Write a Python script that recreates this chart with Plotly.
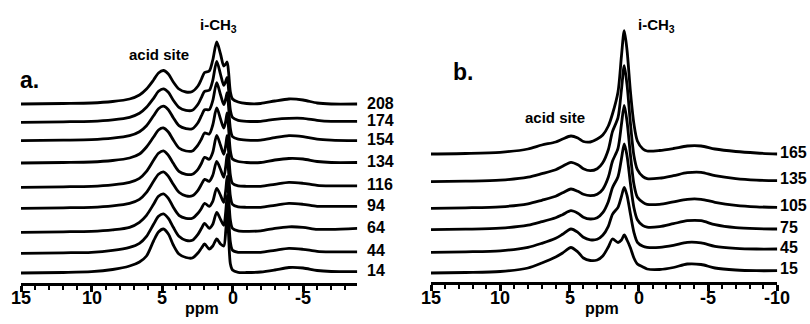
import plotly.graph_objects as go

FONT = "Liberation Sans, Arial, sans-serif"
W, H = 810, 324

# ---------------- Panel a data ----------------
ppm_a = [15, 12, 10, 8.5, 7.3, 6.6, 6.1, 5.6, 5.25, 4.9, 4.55, 4.2, 3.8, 3.3, 2.85, 2.45, 2.2, 1.98,
         1.65, 1.4, 1.12, 0.85, 0.62, 0.48, 0.38, 0.28, 0.15, 0.0, -0.4, -1.0, -2.0, -3.0, -4.0, -5.0,
         -6.0, -7.0, -8.85]
labels_a = ["208", "174", "154", "134", "116", "94", "64", "44", "14"]
baselines_a = [179, 160.7, 142.3, 120, 95.7, 74.7, 50.7, 29.7, 10]
spec_a_208 = [0, 0.5, 1, 2.5, 5, 9, 15, 24, 31, 33.5, 30, 22, 15, 12, 12.5, 18, 25, 31.5, 33, 44, 62, 50, 38, 40, 42, 32, 12, 5, 2, 0.5, 0.5, 3, 5, 4, 1, 0, 0]
spec_a_174 = [0, 0.5, 1, 2.5, 5, 9, 15, 24, 31, 33.5, 30, 22, 15, 12, 12, 18, 25, 31, 32, 42, 61, 48, 37, 41, 45, 33, 12, 5, 2, 1, 1, 3, 4, 4, 2, 1, 1]
spec_a_154 = [0, 0.5, 1, 2.5, 5, 9, 15, 25, 32, 34.5, 31, 23, 15, 12, 12, 18, 25, 31, 31, 40, 58, 46, 36, 42, 48, 34, 12, 4, 1.5, 0.5, 0.5, 3, 5, 4, 1.5, 0.5, 0]
spec_a_134 = [0, 0.5, 1, 2.5, 5, 9, 16, 26, 33, 35, 31, 23, 15, 12, 12, 18, 24, 30, 29, 38, 55, 44, 35, 42, 50, 35, 12, 4, 1.5, 0.5, 0.5, 3, 4.5, 4, 1.5, 0.5, 0.5]
spec_a_116 = [0, 0.5, 1, 2.5, 5, 9, 16, 27, 34, 36.5, 32, 24, 16, 13, 13, 18, 24, 30, 28, 35, 52, 42, 33, 42, 52, 36, 12, 4, 1.5, 1, 1, 3, 5, 4, 2, 1.5, 1.5]
spec_a_94 = [0, 0.5, 1, 2.5, 5, 9, 16, 27, 34, 36.5, 32, 24, 16, 12.5, 12.5, 18, 24, 29, 27, 33, 47, 39, 31, 42, 54, 37, 12, 4, 1.5, 1, 1, 3, 5, 4, 2, 2, 2]
spec_a_64 = [0, 0.5, 1, 2.5, 5, 10, 17, 28, 36, 38.5, 34, 25, 17, 14, 14, 19, 24, 29, 26, 31, 44, 37, 30, 42, 56, 38, 12, 4, 1.5, 1, 1.5, 4, 5.5, 5, 3, 3, 4]
spec_a_44 = [0, 0.5, 1, 3, 6, 10, 17, 29, 37, 39.5, 35, 26, 17, 13, 13, 19, 25, 30, 25, 29, 41, 34, 28, 42, 58, 38, 11, 3, 1, 1, 1, 3, 5, 4, 2, 1.5, 1.5]
spec_a_14 = [0, 0.5, 1.3, 3.5, 7, 11, 17, 32, 41, 44, 39, 28, 19, 15.5, 15, 20, 25, 29, 24, 27, 34, 29, 27, 42, 62, 38, 9, 3, 0.7, 0.5, 1, 3, 5.5, 5, 2.5, 1.5, 1.3]
specs_a = [spec_a_208, spec_a_174, spec_a_154, spec_a_134, spec_a_116, spec_a_94, spec_a_64, spec_a_44, spec_a_14]

# ---------------- Panel b data ----------------
ppm_b = [15, 12.5, 10, 8, 7, 6, 5.5, 4.9, 4.4, 4.0, 3.5, 3.0, 2.6, 2.2, 1.9, 1.5, 1.25, 1.05, 0.85,
         0.6, 0.35, 0.1, -0.3, -0.6, -1.5, -2.5, -3.5, -4.5, -5.5, -7, -8.5, -10]
labels_b = ["165", "135", "105", "75", "45", "15"]
baselines_b = [128, 100.3, 73.7, 52.3, 29.7, 9]
spec_b_165 = [0, 0.5, 1.7, 5, 9, 12, 15, 18, 16, 12.5, 12, 15, 19, 28, 40, 62, 98, 123.3, 104, 62, 30, 13, 5, 3, 3.5, 5.5, 8, 8, 5, 2.5, 1, 0]
spec_b_135 = [0, 0.5, 1.5, 4.5, 8, 12, 15.5, 19.4, 17, 13, 11, 13, 19, 32, 50, 64, 92, 116, 97, 58, 26, 12, 5, 3, 3.5, 6, 9, 9.4, 6, 3, 1.5, 1]
spec_b_105 = [0, 0.5, 1.5, 4.5, 8, 12, 15.5, 19.3, 17, 14, 12.6, 14, 19, 31, 47, 60, 84, 103, 87, 53, 24, 11, 6, 4, 4, 6.5, 9, 9, 6, 3, 1.5, 1]
spec_b_75 = [0, 0.5, 1.5, 4.5, 8, 12, 15, 19, 16.5, 12.5, 10.7, 12, 17, 28, 42, 53, 71, 85.7, 74, 46, 22, 10, 4, 2.5, 3, 6, 9, 9, 5, 2, 1, 0.7]
spec_b_45 = [0, 0.5, 1.5, 5, 9, 14, 18, 23.3, 20, 15, 12.5, 13, 17, 26, 38, 45, 56, 65, 57, 38, 20, 10, 6, 5, 5, 7, 10, 9.5, 6, 4, 3.3, 3.3]
spec_b_15 = [0, 0.5, 1.5, 5, 10, 16, 20, 25.5, 21, 15, 12.5, 13, 17, 26, 34, 30.5, 33, 38, 33, 25, 15, 9, 6, 4, 3.5, 5.5, 9, 8.5, 5, 3, 2.3, 2.3]
specs_b = [spec_b_165, spec_b_135, spec_b_105, spec_b_75, spec_b_45, spec_b_15]

major_ticks_a = [15, 10, 5, 0, -5]
major_ticks_b = [15, 10, 5, 0, -5, -10]

fig = go.Figure()

for base, spec, lab in zip(baselines_a, specs_a, labels_a):
    fig.add_trace(go.Scatter(
        x=ppm_a, y=[base + v for v in spec], mode="lines", name=lab,
        line=dict(color="black", width=2.8, shape="spline", smoothing=0.8),
        xaxis="x", yaxis="y", showlegend=False, hoverinfo="skip"))
for base, spec, lab in zip(baselines_b, specs_b, labels_b):
    fig.add_trace(go.Scatter(
        x=ppm_b, y=[base + v for v in spec], mode="lines", name=lab,
        line=dict(color="black", width=2.8, shape="spline", smoothing=0.8),
        xaxis="x2", yaxis="y2", showlegend=False, hoverinfo="skip"))

annotations = []
for base, spec, lab in zip(baselines_a, specs_a, labels_a):
    annotations.append(dict(x=ppm_a[-1], y=base + spec[-1], xref="x", yref="y", text="<b>%s</b>" % lab,
                            showarrow=False, xanchor="left", yanchor="middle", xshift=8, yshift=1,
                            font=dict(family=FONT, size=16, color="black")))
for base, spec, lab in zip(baselines_b, specs_b, labels_b):
    annotations.append(dict(x=ppm_b[-1], y=base + spec[-1], xref="x2", yref="y2", text="<b>%s</b>" % lab,
                            showarrow=False, xanchor="left", yanchor="middle", xshift=1, yshift=2,
                            font=dict(family=FONT, size=16, color="black")))

# tick labels drawn at the axis tick values (bold, large as in the original figure)
TICK_Y = 1 - 297.5 / H
for v in major_ticks_a:
    annotations.append(dict(x=v, y=TICK_Y, xref="x", yref="paper", text="<b>%d</b>" % v,
                            showarrow=False, xanchor="center", yanchor="middle",
                            font=dict(family=FONT, size=18, color="black")))
for v in major_ticks_b:
    annotations.append(dict(x=v, y=TICK_Y, xref="x2", yref="paper", text="<b>%d</b>" % v,
                            showarrow=False, xanchor="center", yanchor="middle",
                            font=dict(family=FONT, size=18, color="black")))


def txt(text, px, py, size, anchor="center"):
    annotations.append(dict(x=px / W, y=1 - py / H, xref="paper", yref="paper", text="<b>%s</b>" % text,
                            showarrow=False, xanchor=anchor, yanchor="middle",
                            font=dict(family=FONT, size=size, color="black")))


txt("a.", 18, 80, 23, "left")
txt("acid site", 159, 55, 15)
txt("i-CH<sub>3</sub>", 218, 25, 15)
txt("ppm", 202, 308, 16)
txt("b.", 451, 72, 23, "left")
txt("acid site", 555, 117, 15)
txt("i-CH<sub>3</sub>", 656, 25, 15)
txt("ppm", 602, 308, 16)


def xaxis(domain, rng, anchor, ticks):
    return dict(domain=domain, range=rng, anchor=anchor, automargin=False,
                tickmode="array", tickvals=ticks, showticklabels=False,
                showline=True, linewidth=3, linecolor="black", ticks="outside", ticklen=6,
                tickwidth=2.5, tickcolor="black", showgrid=False, zeroline=False,
                minor=dict(tickmode="linear", dtick=1, tick0=0, ticks="outside", ticklen=3.5,
                           tickwidth=2, tickcolor="black", showgrid=False))


fig.update_layout(
    width=W, height=H, autosize=False,
    margin=dict(l=0, r=0, t=0, b=0, pad=0, autoexpand=False),
    paper_bgcolor="white", plot_bgcolor="white", showlegend=False,
    xaxis=xaxis([21 / W, 357.3 / W], [15, -8.85], "y", major_ticks_a),
    yaxis=dict(domain=[41 / H, 1], range=[0, 283], visible=False, fixedrange=True, automargin=False),
    xaxis2=xaxis([431 / W, 777.3 / W], [15, -10], "y2", major_ticks_b),
    yaxis2=dict(domain=[42 / H, 1], range=[0, 282], visible=False, fixedrange=True, automargin=False),
    annotations=annotations,
)

fig.write_html("out.html")
